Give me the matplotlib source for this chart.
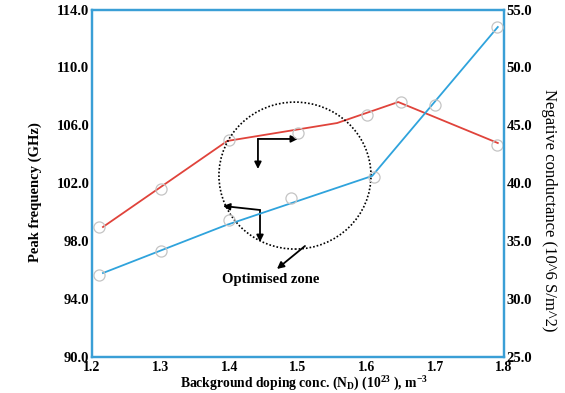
import matplotlib
matplotlib.use("Agg")
import matplotlib.pyplot as plt
from matplotlib.patches import Ellipse

# peak frequency (left axis, GHz)
red_x = [1.21, 1.30, 1.40, 1.50, 1.60, 1.65, 1.79]
red_y = [98.98, 101.60, 104.99, 105.47, 106.71, 107.61, 104.64]
red_line_x = [1.216, 1.397, 1.557, 1.646, 1.791]
red_line_y = [98.98, 104.92, 106.16, 107.61, 104.78]

# negative conductance (right axis, 10^6 S/m^2)
blue_x = [1.21, 1.30, 1.40, 1.49, 1.61, 1.70, 1.79]
blue_y = [32.08, 34.15, 36.83, 38.73, 40.54, 46.76, 53.49]
blue_line_x = [1.216, 1.394, 1.608, 1.791]
blue_line_y = [32.25, 36.36, 40.63, 53.49]

x_ticks = [1.2, 1.3, 1.4, 1.5, 1.6, 1.7, 1.8]
left_ticks = [90, 94, 98, 102, 106, 110, 114]
right_ticks = [25, 30, 35, 40, 45, 50, 55]

SPINE = "#3a9fd6"
RED = "#e0433b"
BLUE = "#2fa3dc"
MARK = "#c4c4c4"

plt.rcParams["font.family"] = "Liberation Serif"
plt.rcParams["mathtext.fontset"] = "custom"
plt.rcParams["mathtext.rm"] = "Liberation Serif:bold"
plt.rcParams["mathtext.it"] = "Liberation Serif:bold:italic"
plt.rcParams["mathtext.bf"] = "Liberation Serif:bold"

fig = plt.figure(figsize=(5.65, 3.93), dpi=100)
ax = fig.add_axes([0.1628, 0.0916, 0.7292, 0.8842])
ax2 = ax.twinx()

ax.plot(red_line_x, red_line_y, color=RED, lw=1.3, zorder=3)
ax.plot(red_x, red_y, ls="none", marker="o", ms=8, mfc="none",
        mec=MARK, mew=0.9, zorder=4)
ax2.plot(blue_line_x, blue_line_y, color=BLUE, lw=1.3, zorder=3)
ax2.plot(blue_x, blue_y, ls="none", marker="o", ms=8, mfc="none",
         mec=MARK, mew=0.9, zorder=4)

ax.set_xlim(1.2, 1.8)
ax.set_ylim(90, 114)
ax2.set_ylim(25, 55)

ax.set_xticks(x_ticks)
ax.set_xticklabels([f"{v:.1f}" for v in x_ticks])
ax.set_yticks(left_ticks)
ax.set_yticklabels([f"{v:.1f}" for v in left_ticks])
ax2.set_yticks(right_ticks)
ax2.set_yticklabels([f"{v:.1f}" for v in right_ticks])

for a in (ax, ax2):
    for s in a.spines.values():
        s.set_color(SPINE)
        s.set_linewidth(1.6)
    a.tick_params(length=0, labelsize=10.5)
    for t in a.get_xticklabels() + a.get_yticklabels():
        t.set_fontweight("bold")
ax.tick_params(axis="x", pad=3, labelsize=10)
ax.tick_params(axis="y", pad=2)
ax2.tick_params(axis="y", pad=2)

ax.set_xlabel(r"Background doping conc. (N$_\mathrm{D}$) (10$^{23}$ ), m$^{-3}$",
              fontsize=9.8, fontweight="bold", va="center")
ax.xaxis.set_label_coords(0.515, -0.077)
ax.set_ylabel("Peak frequency (GHz)", fontsize=10.5, fontweight="bold", va="center")
ax.yaxis.set_label_coords(-0.138, 0.475)
ax2.set_ylabel("Negative conductance (10^6 S/m^2)", fontsize=12,
               rotation=270, va="center")
ax2.yaxis.set_label_coords(1.109, 0.423)

# optimised zone marker
ax.add_patch(Ellipse((1.4956, 102.53), 0.2214, 10.15, fill=False,
                     ls=(0, (1, 1.2)), lw=1.2, color="black", zorder=5))

arrow = dict(arrowstyle="-|>", color="black", lw=1.3, mutation_scale=10,
             shrinkA=0, shrinkB=0)
ax.annotate("", xy=(1.4417, 102.985), xytext=(1.4417, 105.06), arrowprops=arrow)
ax.annotate("", xy=(1.500, 105.06), xytext=(1.4417, 105.06), arrowprops=arrow)
ax.annotate("", xy=(1.3908, 100.43), xytext=(1.4447, 100.153), arrowprops=arrow)
ax.annotate("", xy=(1.4447, 97.94), xytext=(1.4447, 100.153), arrowprops=arrow)
ax.annotate("", xy=(1.4694, 96.08), xytext=(1.5102, 97.667), arrowprops=arrow)
ax.text(1.4607, 95.32, "Optimised zone", fontsize=10.5, fontweight="bold",
        ha="center", va="center")

fig.savefig("out.png", dpi=100)
plt.close(fig)
